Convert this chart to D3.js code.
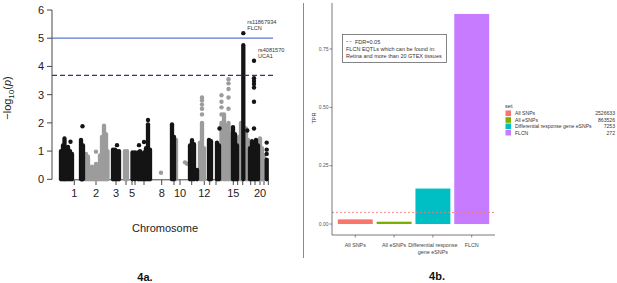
<!DOCTYPE html>
<html><head><meta charset="utf-8">
<script src="https://cdn.jsdelivr.net/npm/d3@7"></script>
<style>body{margin:0;background:#fff}svg{display:block}</style>
</head><body>
<svg id="c" width="617" height="283"></svg>
<script>
// ---------- Panel 4a: Manhattan plot ----------
const chromTicks = [22.3,44,64,74,80,83,92,109.7,122,128,139.7,152.3,157.7,164,181.3,185.7,190.7,198.7,203,208,212,216.3];
const chromLabels = ["1","2","3","","5","","","8","","10","","12","","","15","","","","","20","",""];
const yTicksA = [0,1,2,3,4,5,6];
const genomeWide = 5;
const suggestive = 3.68;
// dense columns of SNPs: [cumulative position, top -log10(p)]
const blackStacks = [[9,1.0],[11,1.2],[12.5,1.45],[14,1.1],[16,1.15],[18,1.0],[20,0.9],
  [29,1.4],[30,0.9],[31,1.2],
  [61,1.05],[63,1.05],[65,1.0],[67,1.0],
  [80.5,0.95],[83,0.95],
  [86,0.95],[88,1.0],[90,0.85],[92,0.95],[94,1.1],[96,1.95],[98,1.05],
  [120,1.95],[122,1.5],
  [138,1.2],[140,1.39],[142,1.25],[145,0.33],
  [157,1.4],[159,1.35],
  [165,1.3],[167,1.2],
  [181,1.85],[183,1.6],[185,1.2],
  [191.3,4.75],
  [198,1.1],[200,1.35],[202,1.3],[204,1.4],[206,1.2],
  [214.7,0.7]];
const grayStacks = [[34,0.9],[36,0.8],[38,0.35],[40,0.45],[42,0.4],[44,0.55],[46,0.5],[48,0.85],[50,1.5],[52,1.9],[54,1.6],[55.5,1.0],
  [73,1.0],[75,1.0],
  [124,1.4],
  [148,1.3],[150,2.0],[152,1.1],
  [169.5,2.0],[172,2.3],[174,1.9],[176.5,2.0],[179,1.6],
  [187,1.5],[189,2.0],[194,1.8],[196,1.4],
  [208,1.45],[210,1.1],[212,0.85]];
// isolated SNPs: [cumulative position, -log10(p)]
const blackPoints = [[18.5,1.33],[30.5,1.88],[65,1.21],[87,1.21],[92,1.32],[96,2.1],[167.5,1.8],
  [191.3,5.18],[202,4.2],[202,3.58],[202,3.48],[202,3.38],[202,3.25],[202,2.75],[202,1.8],[195.3,1.73],
  [214.7,0.9],[214.7,1.05],[214.7,1.3]];
const grayPoints = [[44,0.98],[109,0.23],[133,0.6],[135,0.55],
  [150,2.3],[150,2.5],[150,2.65],[150,2.8],[150,2.9],
  [169.5,2.3],[169.5,2.55],[169.5,2.75],[169.5,2.98],
  [176.5,2.5],[176.5,2.9],[176.5,3.2],[176.5,3.4],[176.5,3.55]];
const annotations = [{pos:191.3, val:5.18, snp:"rs11867934", gene:"FLCN"},
                     {pos:202, val:4.2, snp:"rs4081570", gene:"UCA1"}];

// ---------- Panel 4b: TPR bars ----------
const setNames = ["All SNPs","All eSNPs","Differential response gene eSNPs","FLCN"];
const setLabels = [["All SNPs"],["All eSNPs"],["Differential response","gene eSNPs"],["FLCN"]];
const tprValues = [0.02,0.01,0.152,0.9];
const setCounts = ["2526633","863526","7253","272"];
const setColors = ["#F8766D","#7CAE00","#00BFC4","#C77CFF"];
const yTicksB = [0,0.25,0.5,0.75];
const fdr = 0.05;

const svg = d3.select("#c");
const F = "Liberation Sans, Arial, sans-serif";

// ===== Panel A =====
const xA = d3.scaleLinear().domain([0,230]).range([52,282]);
const yA = d3.scaleLinear().domain([0,6]).range([179.3,10]);
const gA = svg.append("g");

// y axis
gA.append("line").attr("x1",52).attr("x2",52).attr("y1",yA(0)).attr("y2",yA(6)).attr("stroke","#333").attr("stroke-width",0.9);
yTicksA.forEach(t=>{
  gA.append("line").attr("x1",47).attr("x2",52).attr("y1",yA(t)).attr("y2",yA(t)).attr("stroke","#333").attr("stroke-width",0.9);
  gA.append("text").attr("x",44).attr("y",yA(t)+4).attr("text-anchor","end").attr("font-family",F).attr("font-size",11).attr("fill","#222").text(t);
});
// x axis
gA.append("line").attr("x1",xA(chromTicks[0])).attr("x2",xA(chromTicks[chromTicks.length-1])).attr("y1",179.8).attr("y2",179.8).attr("stroke","#333").attr("stroke-width",0.9);
chromTicks.forEach((t,i)=>{
  gA.append("line").attr("x1",xA(t)).attr("x2",xA(t)).attr("y1",179.8).attr("y2",185).attr("stroke","#333").attr("stroke-width",0.9);
  if (chromLabels[i]) gA.append("text").attr("x",xA(t)).attr("y",197).attr("text-anchor","middle").attr("font-family",F).attr("font-size",11).attr("fill","#222").text(chromLabels[i]);
});
gA.append("text").attr("x",165).attr("y",232).attr("text-anchor","middle").attr("font-family",F).attr("font-size",11).attr("fill","#222").text("Chromosome");
const yt = gA.append("text").attr("transform","translate(11,98) rotate(-90)").attr("text-anchor","middle").attr("font-family",F).attr("font-size",11).attr("fill","#222");
yt.append("tspan").text("\u2212log");
yt.append("tspan").attr("font-size",8).attr("dy",2.5).text("10");
yt.append("tspan").attr("dy",-2.5).text("(");
yt.append("tspan").attr("font-style","italic").text("p");
yt.append("tspan").text(")");

// stacks
const drawStacks = (data,col)=> gA.append("g").selectAll("line").data(data).join("line")
  .attr("x1",d=>xA(d[0])).attr("x2",d=>xA(d[0])).attr("y1",yA(0)).attr("y2",d=>yA(d[1]))
  .attr("stroke",col).attr("stroke-width",4.3).attr("stroke-linecap","round");
const drawPoints = (data,col)=> gA.append("g").selectAll("circle").data(data).join("circle")
  .attr("cx",d=>xA(d[0])).attr("cy",d=>yA(d[1])).attr("r",2.2).attr("fill",col);
drawStacks(grayStacks,"#9c9c9c");
drawPoints(grayPoints,"#9c9c9c");
drawStacks(blackStacks,"#141414");
drawPoints(blackPoints,"#141414");

// thresholds
gA.append("line").attr("x1",52).attr("x2",273).attr("y1",yA(genomeWide)).attr("y2",yA(genomeWide)).attr("stroke","#5a78d6").attr("stroke-width",1.3);
gA.append("line").attr("x1",52).attr("x2",273).attr("y1",yA(suggestive)).attr("y2",yA(suggestive)).attr("stroke","#2b3f6e").attr("stroke-width",1.2).attr("stroke-dasharray","5,3");

// annotations
annotations.forEach(a=>{
  const x = xA(a.pos)+4, y = yA(a.val);
  gA.append("text").attr("x",x).attr("y",y-9).attr("font-family",F).attr("font-size",5.6).attr("fill","#333").text(a.snp);
  gA.append("text").attr("x",x).attr("y",y-3).attr("font-family",F).attr("font-size",5.6).attr("fill","#333").text(a.gene);
});

gA.append("text").attr("x",145).attr("y",281).attr("text-anchor","middle").attr("font-family",F).attr("font-weight","bold").attr("font-size",11).attr("fill","#111").text("4a.");

// divider
svg.append("line").attr("x1",303.5).attr("x2",303.5).attr("y1",3).attr("y2",258).attr("stroke","#8a8a8a").attr("stroke-width",1);

// ===== Panel B =====
const gB = svg.append("g");
const xB = d3.scaleBand().domain(setNames).range([332,495]).paddingInner(0.1).paddingOuter(0.15);
const yB = d3.scaleLinear().domain([-0.047,0.947]).range([235,3]);

gB.selectAll("rect").data(setNames).join("rect")
  .attr("x",d=>xB(d)).attr("width",xB.bandwidth())
  .attr("y",(d,i)=>yB(tprValues[i])).attr("height",(d,i)=>yB(0)-yB(tprValues[i]))
  .attr("fill",(d,i)=>setColors[i]);

gB.append("line").attr("x1",332).attr("x2",495).attr("y1",yB(fdr)).attr("y2",yB(fdr)).attr("stroke","#f07a7a").attr("stroke-width",0.9).attr("stroke-dasharray","2,2");

// axes
gB.append("line").attr("x1",332).attr("x2",332).attr("y1",3).attr("y2",235).attr("stroke","#555").attr("stroke-width",0.8);
gB.append("line").attr("x1",332).attr("x2",495).attr("y1",235).attr("y2",235).attr("stroke","#555").attr("stroke-width",0.8);
yTicksB.forEach(t=>{
  gB.append("line").attr("x1",329.5).attr("x2",332).attr("y1",yB(t)).attr("y2",yB(t)).attr("stroke","#555").attr("stroke-width",0.7);
  gB.append("text").attr("x",328.5).attr("y",yB(t)+1.8).attr("text-anchor","end").attr("font-family",F).attr("font-size",5).attr("fill","#555").text(d3.format(".2f")(t));
});
setNames.forEach((s,i)=>{
  const cx = xB(s)+xB.bandwidth()/2;
  gB.append("line").attr("x1",cx).attr("x2",cx).attr("y1",235).attr("y2",237.5).attr("stroke","#555").attr("stroke-width",0.7);
  setLabels[i].forEach((ln,j)=>{
    gB.append("text").attr("x",cx).attr("y",247+j*7).attr("text-anchor","middle").attr("font-family",F).attr("font-size",5.4).attr("fill","#444").text(ln);
  });
});
gB.append("text").attr("transform","translate(316,118) rotate(-90)").attr("text-anchor","middle").attr("font-family",F).attr("font-size",5.6).attr("fill","#333").text("TPR");

// inner legend box
gB.append("rect").attr("x",342.5).attr("y",34.5).attr("width",104).attr("height",28).attr("fill","#fff").attr("stroke","#666").attr("stroke-width",0.8);
gB.append("line").attr("x1",346).attr("x2",352).attr("y1",41.5).attr("y2",41.5).attr("stroke","#f07a7a").attr("stroke-width",0.9).attr("stroke-dasharray","2,1.5");
gB.append("text").attr("x",355).attr("y",43.5).attr("font-family",F).attr("font-size",5.5).attr("fill","#333").text("FDR=0.05");
gB.append("text").attr("x",346).attr("y",51).attr("font-family",F).attr("font-size",5.5).attr("fill","#333").text("FLCN EQTLs which can be found in:");
gB.append("text").attr("x",346).attr("y",58).attr("font-family",F).attr("font-size",5.5).attr("fill","#333").text("Retina and more than 20 GTEX tissues");

// right legend
gB.append("text").attr("x",505).attr("y",107.5).attr("font-family",F).attr("font-size",5.6).attr("fill","#333").text("set");
const rowY = [113.3,120,126.3,132.7];
setNames.forEach((s,i)=>{
  gB.append("rect").attr("x",505.5).attr("y",rowY[i]-2.8).attr("width",5.5).attr("height",5.6).attr("fill",setColors[i]);
  gB.append("text").attr("x",515).attr("y",rowY[i]+1.8).attr("font-family",F).attr("font-size",5.1).attr("fill","#333").text(s);
  gB.append("text").attr("x",615).attr("y",rowY[i]+1.8).attr("text-anchor","end").attr("font-family",F).attr("font-size",5.1).attr("fill","#333").text(setCounts[i]);
});

gB.append("text").attr("x",437).attr("y",280).attr("text-anchor","middle").attr("font-family",F).attr("font-weight","bold").attr("font-size",11).attr("fill","#111").text("4b.");
</script>
</body></html>
